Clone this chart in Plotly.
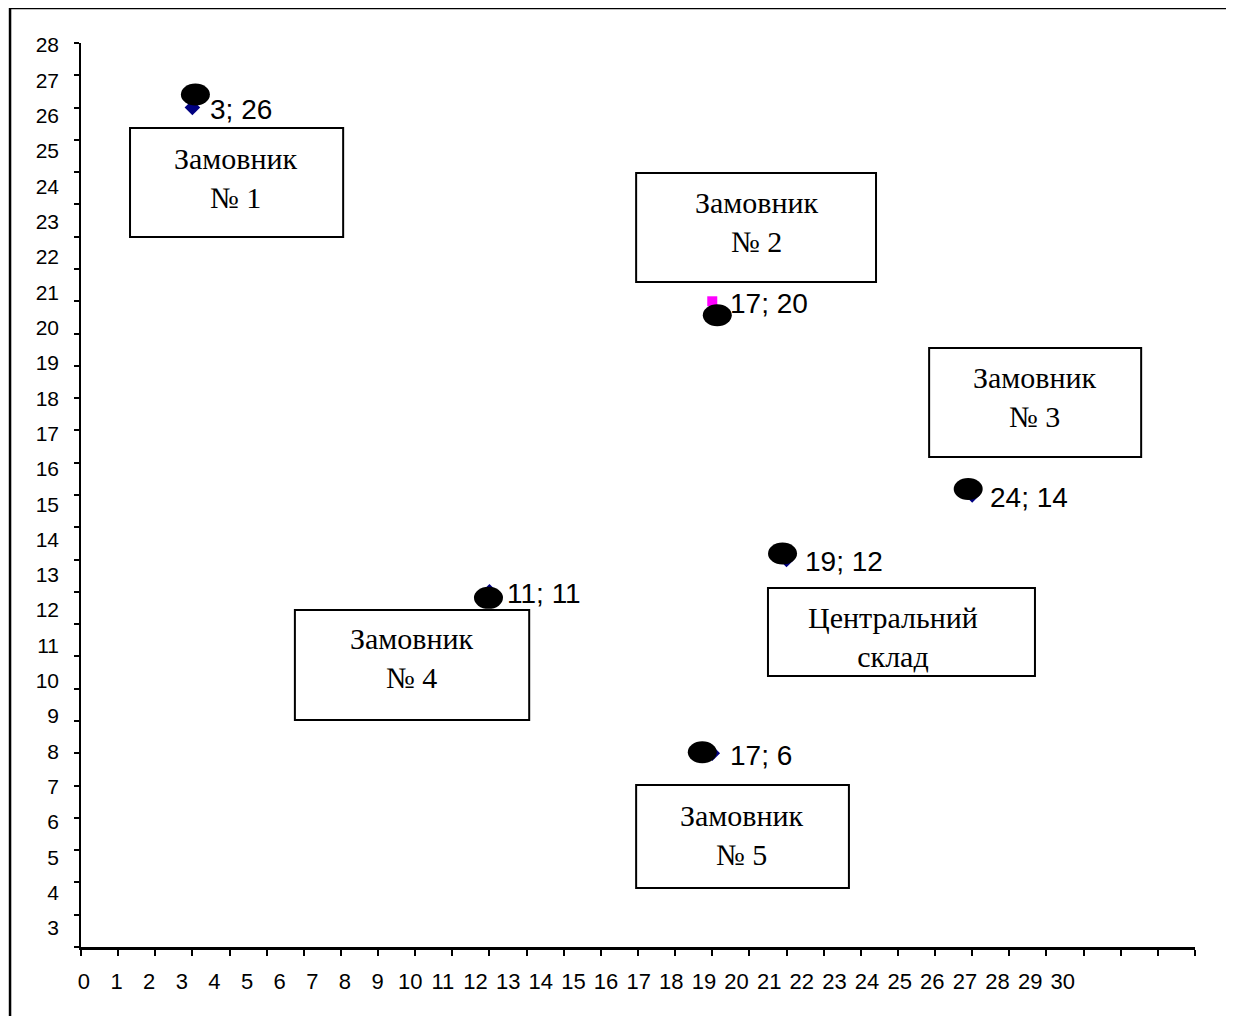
import plotly.graph_objects as go

# ---- data ----
s1_x = [3, 11, 19, 24, 17]
s1_y = [26, 11, 12, 14, 6]
s2_x = [17]
s2_y = [20]
point_labels_x = [3, 17, 17, 11, 19, 24]
point_labels_y = [26, 20, 6, 11, 12, 14]
point_labels = ["3; 26", "17; 20", "17; 6", "11; 11", "19; 12", "24; 14"]

x_tick_vals = [0, 1, 2, 3, 4, 5, 6, 7, 8, 9, 10, 11, 12, 13, 14, 15, 16, 17, 18, 19, 20,
               21, 22, 23, 24, 25, 26, 27, 28, 29, 30]
x_tick_text = ["0", "1", "2", "3", "4", "5", "6", "7", "8", "9", "10", "11", "12", "13", "14",
               "15", "16", "17", "18", "19", "20", "21", "22", "23", "24", "25", "26", "27",
               "28", "29", "30"]
y_tick_vals = [3, 4, 5, 6, 7, 8, 9, 10, 11, 12, 13, 14, 15, 16, 17, 18, 19, 20, 21, 22, 23,
               24, 25, 26, 27, 28]
y_tick_text = ["3", "4", "5", "6", "7", "8", "9", "10", "11", "12", "13", "14", "15", "16",
               "17", "18", "19", "20", "21", "22", "23", "24", "25", "26", "27", "28"]

box_texts = ["Замовник<br>№ 1", "Замовник<br>№ 2", "Замовник<br>№ 3",
             "Замовник<br>№ 4", "Замовник<br>№ 5", "Центральний<br>склад"]

# ---- layout helpers (styling / placement) ----
box_rects = [  # x0, x1, y0, y1 in axis units
    (1.32, 7.06, 21.99, 25.37),
    (14.95, 21.41, 20.60, 23.97),
    (22.84, 28.55, 15.18, 18.55),
    (5.76, 12.07, 7.03, 10.44),
    (14.95, 20.68, 1.83, 5.02),
    (18.50, 25.69, 8.39, 11.12),
]
box_text_pos = [(4.17, 23.82), (18.2, 22.47), (25.69, 17.04), (8.91, 8.94), (17.8, 3.48), (21.87, 9.59)]
ellipse_offsets = [(3, -13), (5, 14), (-10, -1), (-1, 6), (-4, -6), (-4, -6)]  # px, screen-down y

fig = go.Figure()
fig.add_trace(go.Scatter(x=s1_x, y=s1_y, mode="markers",
                         marker=dict(symbol="diamond", size=12, color="#000080"),
                         showlegend=False, hoverinfo="skip"))
fig.add_trace(go.Scatter(x=s2_x, y=s2_y, mode="markers",
                         marker=dict(symbol="square", size=10, color="#FF00FF"),
                         showlegend=False, hoverinfo="skip"))
fig.add_trace(go.Scatter(x=[None], y=[None], xaxis="x2", yaxis="y2", mode="markers",
                         showlegend=False, hoverinfo="skip"))

shapes = []
for (px, py), (dx, dy) in zip(zip(point_labels_x, point_labels_y), ellipse_offsets):
    shapes.append(dict(type="circle", xref="x", yref="y", xsizemode="pixel", ysizemode="pixel",
                       xanchor=px, yanchor=py, x0=dx - 14.5, x1=dx + 14.5,
                       y0=-dy - 11, y1=-dy + 11, fillcolor="black",
                       line=dict(width=0), layer="above"))
for (x0, x1, y0, y1) in box_rects:
    shapes.append(dict(type="rect", xref="x", yref="y", x0=x0, x1=x1, y0=y0, y1=y1,
                       line=dict(color="black", width=2), fillcolor="rgba(0,0,0,0)", layer="above"))
# outer frame
shapes.append(dict(type="rect", xref="paper", yref="paper", x0=-0.0637, x1=1.3, y0=-0.4, y1=1.0387,
                   line=dict(color="black", width=2.5), fillcolor="rgba(0,0,0,0)", layer="below"))

annotations = []
for x, y, t in zip(point_labels_x, point_labels_y, point_labels):
    annotations.append(dict(x=x, y=y, xref="x", yref="y", text=t, showarrow=False,
                            xanchor="left", yanchor="middle", xshift=16, yshift=-2,
                            font=dict(family="Liberation Sans, Arial", size=28, color="black")))
for (x, y), t in zip(box_text_pos, box_texts):
    annotations.append(dict(x=x, y=y, xref="x", yref="y", text=t, showarrow=False,
                            xanchor="center", yanchor="middle", align="center",
                            font=dict(family="Liberation Serif, Times New Roman", size=30,
                                      color="black")))

fig.update_layout(
    width=1226, height=1008, autosize=False,
    margin=dict(l=73, r=39, t=35, b=69, pad=0),
    paper_bgcolor="white", plot_bgcolor="white",
    showlegend=False,
    xaxis=dict(range=[0, 30], showgrid=False, zeroline=False, showline=True,
               linecolor="black", linewidth=2.5, ticks="outside", ticklen=6, tickwidth=2,
               tickcolor="black", tickmode="linear", tick0=0, dtick=1, showticklabels=False,
               fixedrange=True),
    yaxis=dict(range=[0, 28], showgrid=False, zeroline=False, showline=True,
               linecolor="black", linewidth=2, ticks="outside", ticklen=5, tickwidth=2,
               tickcolor="black", tickmode="linear", tick0=0, dtick=1, showticklabels=False,
               fixedrange=True),
    xaxis2=dict(overlaying="x", anchor="y", side="bottom", range=[-0.09, 34.05],
                showgrid=False, zeroline=False, showline=False, ticks="",
                tickmode="array", tickvals=x_tick_vals, ticktext=x_tick_text,
                ticklabelstandoff=19,
                tickfont=dict(family="Liberation Sans, Arial", size=22, color="black")),
    yaxis2=dict(overlaying="y", anchor="x", side="left", range=[2.46, 28.06],
                showgrid=False, zeroline=False, showline=False, ticks="",
                tickmode="array", tickvals=y_tick_vals, ticktext=y_tick_text,
                ticklabelstandoff=21,
                tickfont=dict(family="Liberation Sans, Arial", size=21, color="black")),
    shapes=shapes, annotations=annotations,
)

fig.write_html("out.html")
